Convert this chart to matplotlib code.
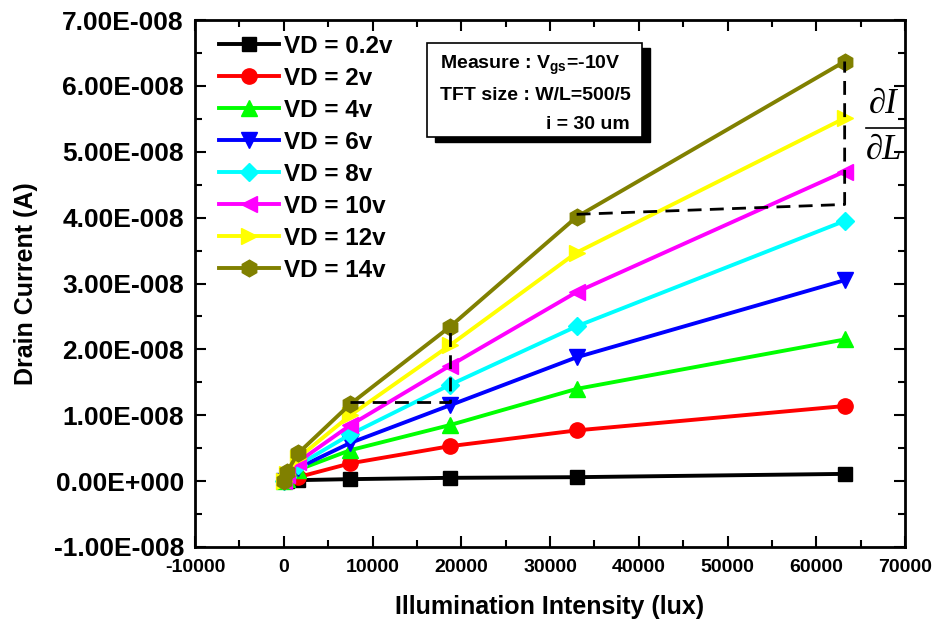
import matplotlib
matplotlib.use("Agg")
import matplotlib.pyplot as plt
from matplotlib.lines import Line2D
from matplotlib.patches import Rectangle
from matplotlib.ticker import MultipleLocator, FuncFormatter

plt.rcParams['font.family'] = ['Liberation Sans', 'DejaVu Sans']
plt.rcParams['font.weight'] = 'bold'
plt.rcParams['mathtext.fontset'] = 'custom'
plt.rcParams['mathtext.rm'] = 'Liberation Sans:bold'

# illumination (lux) and drain current (units of 1e-8 A)
lux = [0, 350, 1600, 7500, 18700, 33000, 63200]
vd_labels = ['VD = 0.2v', 'VD = 2v', 'VD = 4v', 'VD = 6v',
             'VD = 8v', 'VD = 10v', 'VD = 12v', 'VD = 14v']
id_02 = [0.0, 0.0, 0.015, 0.03, 0.05, 0.06, 0.11]
id_2 = [0.0, 0.01, 0.06, 0.27, 0.53, 0.77, 1.14]
id_4 = [0.0, 0.03, 0.17, 0.47, 0.85, 1.40, 2.15]
id_6 = [0.0, 0.05, 0.20, 0.58, 1.15, 1.88, 3.05]
id_8 = [0.0, 0.07, 0.24, 0.71, 1.46, 2.35, 3.95]
id_10 = [0.0, 0.09, 0.29, 0.85, 1.75, 2.87, 4.70]
id_12 = [0.0, 0.11, 0.35, 1.00, 2.06, 3.47, 5.51]
id_14 = [0.0, 0.14, 0.42, 1.17, 2.34, 4.01, 6.37]

# slope construction lines (lux, 1e-8 A)
slope1_x = [7500, 18700, 18700]
slope1_y = [1.20, 1.20, 2.34]
slope2_x = [33000, 63200, 63200]
slope2_y = [4.05, 4.20, 6.37]

series = [id_02, id_2, id_4, id_6, id_8, id_10, id_12, id_14]
colors = ['#000000', '#ff0000', '#00ff00', '#0000ff',
          '#00ffff', '#ff00ff', '#ffff00', '#808000']
markers = ['s', 'o', '^', 'v', 'D', '<', '>', 'h']
msizes = [10, 11, 11, 11, 9, 11, 11, 12]

W, H = 939, 625
fig = plt.figure(figsize=(W / 100, H / 100), dpi=100)
ax = fig.add_axes([195 / W, 1 - 547 / H, 710 / W, 527 / H])

handles = []
for vals, c, m, ms, lab in zip(series, colors, markers, msizes, vd_labels):
    y = [v * 1e-8 for v in vals]
    h, = ax.plot(lux, y, color=c, lw=2.8, marker=m, ms=ms, mec=c, mfc=c, label=lab)
    handles.append(h)

ax.plot(slope1_x, [v * 1e-8 for v in slope1_y], 'k--', lw=2, dashes=(5, 3))
ax.plot(slope2_x, [v * 1e-8 for v in slope2_y], 'k--', lw=2, dashes=(5, 3))

ax.set_xlim(-10000, 70000)
ax.set_ylim(-1e-8, 7e-8)
ax.xaxis.set_major_locator(MultipleLocator(10000))
ax.xaxis.set_minor_locator(MultipleLocator(5000))
ax.yaxis.set_major_locator(MultipleLocator(1e-8))
ax.yaxis.set_minor_locator(MultipleLocator(0.5e-8))


def sci3(v, pos):
    if abs(v) < 1e-20:
        return '0.00E+000'
    s = '%.2E' % v
    mant, exp = s.split('E')
    e = int(exp)
    return '%sE%s%03d' % (mant, '-' if e < 0 else '+', abs(e))


ax.yaxis.set_major_formatter(FuncFormatter(sci3))
ax.xaxis.set_major_formatter(FuncFormatter(lambda v, p: '%d' % v))
ax.tick_params(which='both', direction='in', top=True, right=True, width=1.5)
ax.tick_params(which='major', length=8)
ax.tick_params(which='minor', length=5)
ax.tick_params(axis='y', labelsize=19, pad=8)
ax.tick_params(axis='x', labelsize=14, pad=9)
for sp in ax.spines.values():
    sp.set_linewidth(2)

ax.set_ylabel('Drain Current (A)', fontsize=18, fontweight='bold', labelpad=11)
ax.set_xlabel('Illumination Intensity (lux)', fontsize=18, fontweight='bold', labelpad=13)

ax.legend(handles=handles, loc='upper left', bbox_to_anchor=(0.0, 1.018),
          frameon=False, fontsize=17.5, handlelength=2.45, handletextpad=0.22,
          labelspacing=0.37, numpoints=1, borderaxespad=0.6)

# info box with drop shadow
tf = fig.transFigure
bx0, by0, bx1, by1 = 427, 43, 642, 137
fig.patches.append(Rectangle(((bx0 + 8) / W, 1 - (by1 + 5) / H), (bx1 - bx0) / W,
                             (by1 - by0) / H, transform=tf, facecolor='black',
                             edgecolor='black', zorder=5))
fig.patches.append(Rectangle((bx0 / W, 1 - by1 / H), (bx1 - bx0) / W,
                             (by1 - by0) / H, transform=tf, facecolor='white',
                             edgecolor='black', lw=1.2, zorder=6))
fig.text(440 / W, 1 - 69 / H, r'Measure : V$_{\rm gs}$=-10V', fontsize=14,
         fontweight='bold', va='baseline', zorder=7)
fig.text(440 / W, 1 - 100 / H, 'TFT size : W/L=500/5', fontsize=14,
         fontweight='bold', va='baseline', zorder=7)
fig.text(630 / W, 1 - 129 / H, 'i = 30 um', fontsize=14,
         fontweight='bold', va='baseline', ha='right', zorder=7)

# dI/dL label
fig.text(883 / W, 1 - 104 / H, '\u2202I', fontsize=25, family='Liberation Serif',
         style='italic', fontweight='normal', ha='center', va='center')
fig.text(884 / W, 1 - 150 / H, '\u2202L', fontsize=25, family='Liberation Serif',
         style='italic', fontweight='normal', ha='center', va='center')
fig.lines.append(Line2D([866 / W, 905 / W], [1 - 128 / H, 1 - 128 / H],
                        transform=tf, color='black', lw=1.2))

fig.savefig('out.png', dpi=100)
